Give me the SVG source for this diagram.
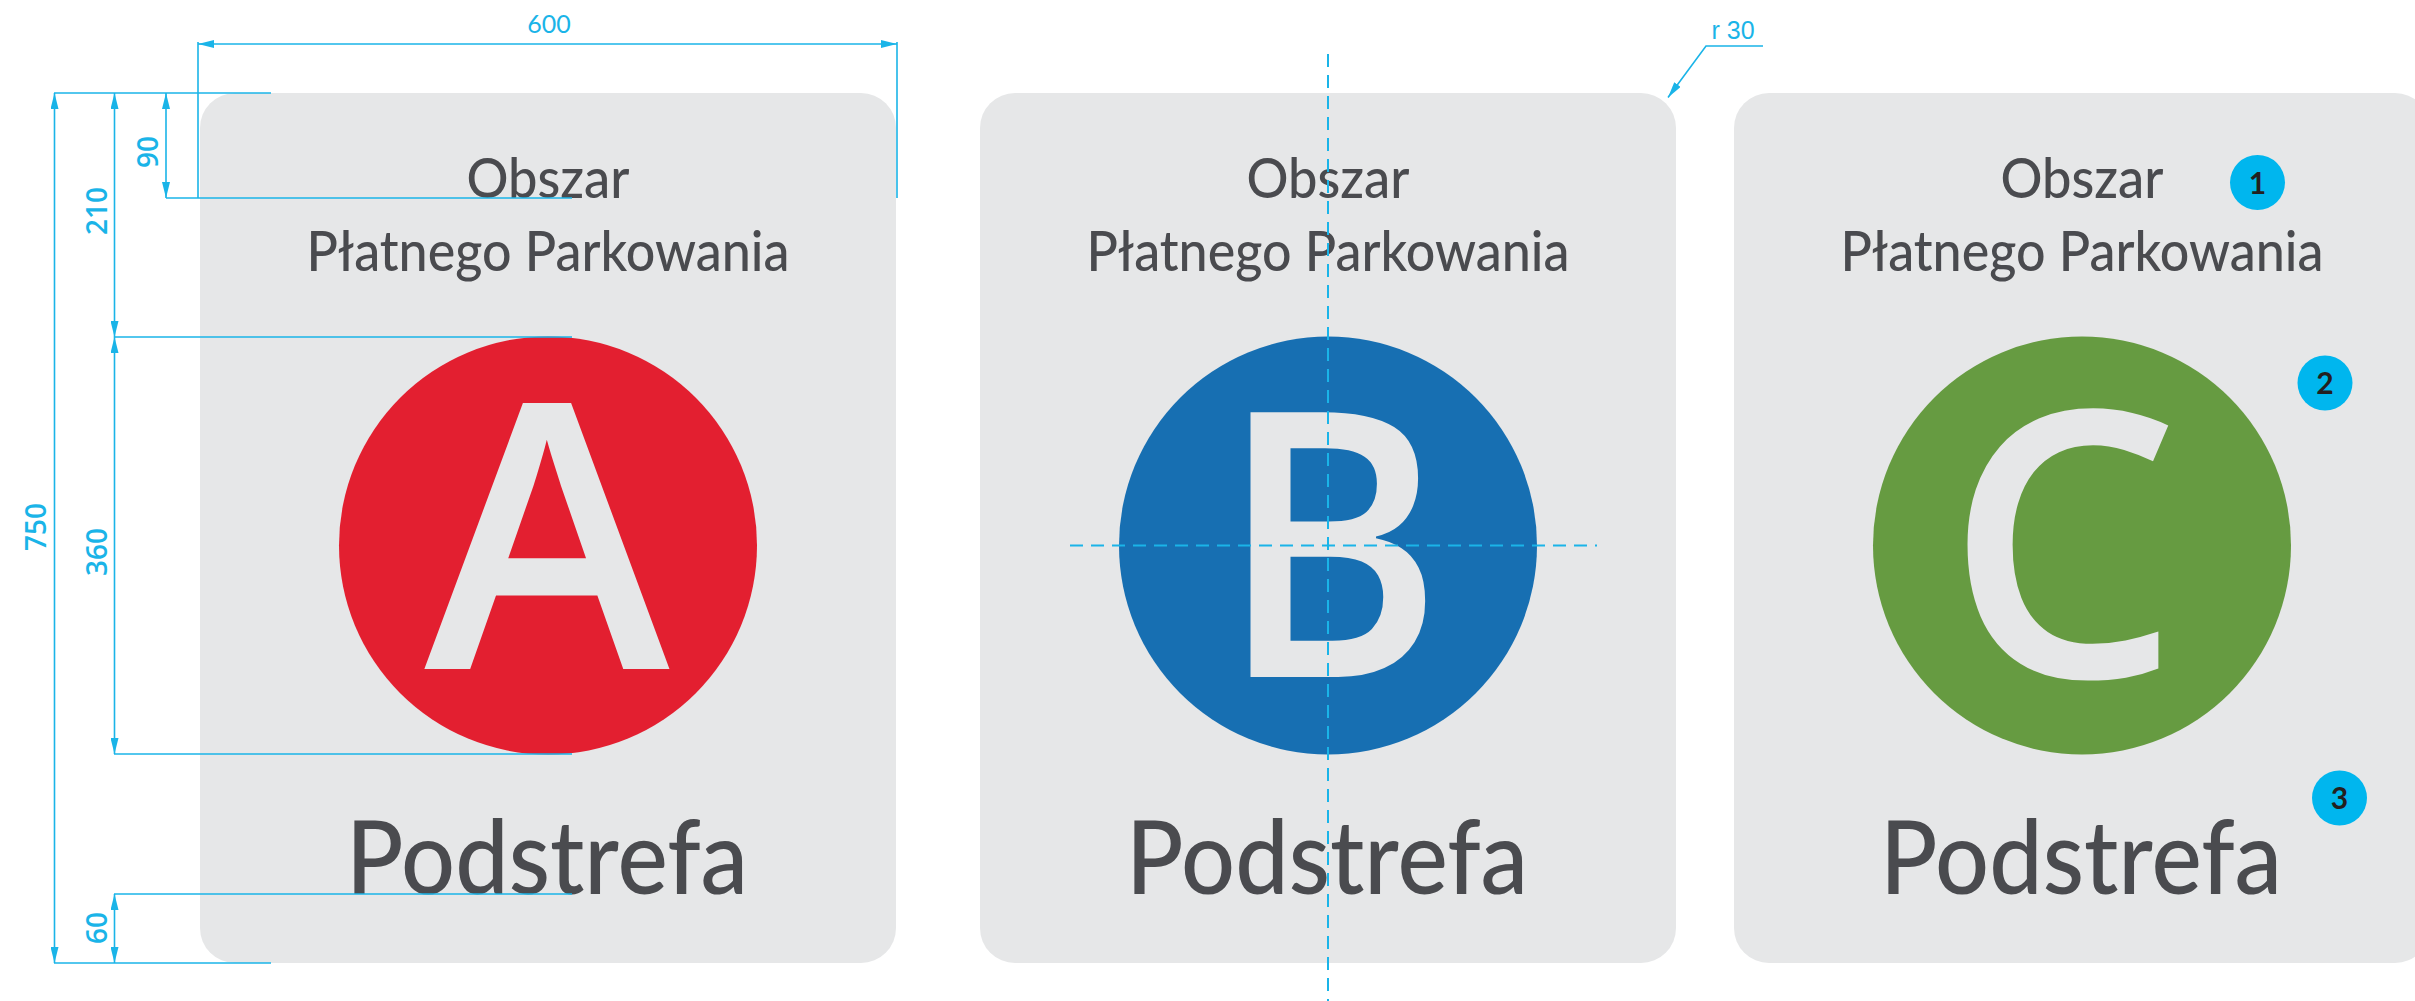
<svg xmlns="http://www.w3.org/2000/svg" width="2415" height="1001" viewBox="0 0 2415 1001">
<defs>
<marker id="arr" viewBox="0 0 16 8" refX="16" refY="4" markerWidth="16" markerHeight="8" markerUnits="userSpaceOnUse" orient="auto-start-reverse"><path d="M0,0 L16,4 L0,8 z" fill="#1ab4e8"/></marker>
</defs>
<style>
.panel{fill:#e6e7e8}
.t1{font-family:Lato,"Noto Sans",sans-serif;font-size:56px;font-weight:500;fill:#4a4b4f;text-anchor:middle}
.t2{font-family:Lato,"Noto Sans",sans-serif;font-size:103px;font-weight:500;fill:#4a4b4f;text-anchor:middle}
.big{font-family:"Open Sans","Noto Sans",sans-serif;font-size:371px;font-weight:600;fill:#e6e7e8;text-anchor:middle}
.dim{stroke:#1ab4e8;stroke-width:1.6;fill:none}
.dimA{stroke:#1ab4e8;stroke-width:1.6;fill:none;marker-start:url(#arr);marker-end:url(#arr)}
.dl{font-family:Lato,"Open Sans",sans-serif;font-size:25px;fill:#1ab4e8;text-anchor:middle}
.dr{font-family:"Open Sans",Lato,sans-serif;font-size:28px;font-weight:600;fill:#1ab4e8;text-anchor:middle}
.dash{stroke:#1ab4e8;stroke-width:2;stroke-dasharray:13 8;fill:none}
.num{fill:#00b6ee}
.nt{font-family:Lato,"Open Sans",sans-serif;font-size:30px;font-weight:700;fill:#231f20;text-anchor:middle}
</style>
<rect width="2415" height="1001" fill="#ffffff"/>

<g id="sign-a">
<rect class="panel" x="200" y="93" width="696" height="870" rx="35" ry="35"/>
<text class="t1" x="548" y="197.5" textLength="163" lengthAdjust="spacingAndGlyphs">Obszar</text>
<text class="t1" x="548" y="271" textLength="483" lengthAdjust="spacingAndGlyphs">Płatnego Parkowania</text>
<circle cx="548" cy="545.5" r="209" fill="#e31f30"/>
<text class="big" x="547" y="669">A</text>
<text class="t2" x="547" y="894" textLength="402" lengthAdjust="spacingAndGlyphs">Podstrefa</text>
</g>

<g id="sign-b">
<rect class="panel" x="980" y="93" width="696" height="870" rx="35" ry="35"/>
<text class="t1" x="1328" y="197.5" textLength="163" lengthAdjust="spacingAndGlyphs">Obszar</text>
<text class="t1" x="1328" y="271" textLength="483" lengthAdjust="spacingAndGlyphs">Płatnego Parkowania</text>
<circle cx="1328" cy="545.5" r="209" fill="#176fb2"/>
<text class="big" transform="translate(1331,677) scale(0.92,1)" x="0" y="0">B</text>
<text class="t2" x="1327" y="894" textLength="402" lengthAdjust="spacingAndGlyphs">Podstrefa</text>
</g>

<g id="sign-c">
<rect class="panel" x="1734" y="93" width="696" height="870" rx="35" ry="35"/>
<text class="t1" x="2082" y="197.5" textLength="163" lengthAdjust="spacingAndGlyphs">Obszar</text>
<text class="t1" x="2082" y="271" textLength="483" lengthAdjust="spacingAndGlyphs">Płatnego Parkowania</text>
<circle cx="2082" cy="545.5" r="209" fill="#669b41"/>
<text class="big" x="2063" y="677">C</text>
<text class="t2" x="2081" y="894" textLength="402" lengthAdjust="spacingAndGlyphs">Podstrefa</text>
</g>

<g id="callout-1"><circle class="num" cx="2257.5" cy="182.5" r="27.5"/><text class="nt" x="2257.5" y="193.5">1</text></g>
<g id="callout-2"><circle class="num" cx="2325" cy="383" r="27.5"/><text class="nt" x="2325" y="394">2</text></g>
<g id="callout-3"><circle class="num" cx="2339.5" cy="798" r="27.5"/><text class="nt" x="2339.5" y="809">3</text></g>

<g id="connectors">
<line class="dim" x1="54" y1="93" x2="271" y2="93"/>
<line class="dim" x1="166" y1="198" x2="572" y2="198"/>
<line class="dim" x1="114" y1="337" x2="572" y2="337"/>
<line class="dim" x1="114" y1="754" x2="572" y2="754"/>
<line class="dim" x1="114" y1="894" x2="572" y2="894"/>
<line class="dim" x1="54" y1="963" x2="271" y2="963"/>
<line class="dim" x1="198" y1="42" x2="198" y2="198"/>
<line class="dim" x1="897" y1="42" x2="897" y2="198"/>
<line class="dimA" x1="198" y1="44" x2="897" y2="44"/>
<line class="dimA" x1="54.5" y1="93" x2="54.5" y2="963"/>
<line class="dimA" x1="114.5" y1="93" x2="114.5" y2="337"/>
<line class="dimA" x1="166" y1="93" x2="166" y2="198"/>
<line class="dimA" x1="114.5" y1="337" x2="114.5" y2="754"/>
<line class="dimA" x1="114.5" y1="894" x2="114.5" y2="963"/>
<polyline class="dim" points="1763,46 1706,46 1668,97.5" marker-end="url(#arr)"/>
<line class="dash" x1="1328" y1="54" x2="1328" y2="1001"/>
<line class="dash" x1="1070" y1="545.5" x2="1597" y2="545.5"/>
</g>

<g id="dimension-labels">
<text class="dl" x="549" y="33">600</text>
<text class="dr" transform="translate(46,527) rotate(-90)">750</text>
<text class="dr" transform="translate(107,211) rotate(-90)">210</text>
<text class="dr" transform="translate(158,152) rotate(-90)">90</text>
<text class="dr" transform="translate(107,552) rotate(-90)">360</text>
<text class="dr" transform="translate(107,928) rotate(-90)">60</text>
<text x="1733" y="39" style="font-family:'Liberation Sans',Arial,sans-serif;font-size:25px;fill:#1ab4e8;text-anchor:middle">r 30</text>
</g>
</svg>
